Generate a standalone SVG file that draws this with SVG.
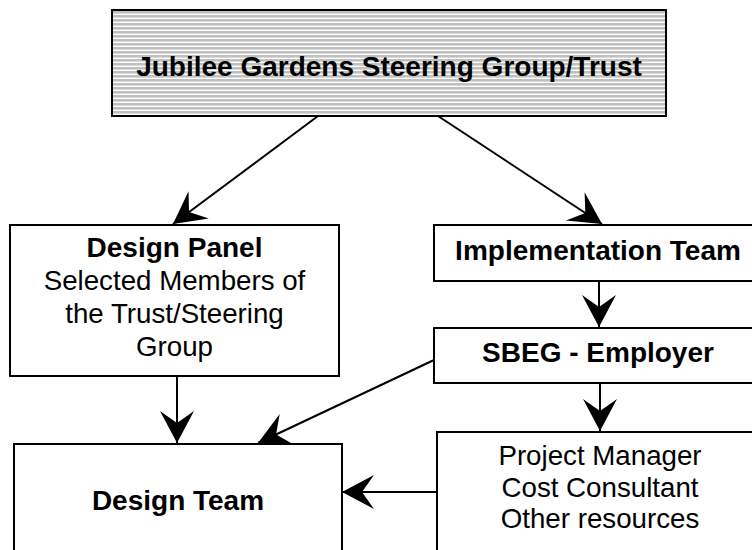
<svg xmlns="http://www.w3.org/2000/svg" width="752" height="550" viewBox="0 0 752 550">
  <defs>
    <!-- horizontal hatch for the top box -->
    <pattern id="hatch" patternUnits="userSpaceOnUse" x="0" y="11" width="8" height="4">
      <rect width="8" height="4" fill="#c0c0c0"/>
      <rect y="2.6" width="8" height="1.4" fill="#ffffff"/>
    </pattern>
    <marker id="arrow" markerUnits="userSpaceOnUse" viewBox="-33 -18 34 36" markerWidth="34" markerHeight="36" refX="0" refY="0" orient="auto">
      <path d="M0,0 L-32,-17 L-20,0 L-32,17 Z" fill="#000"/>
    </marker>
    <style>
      .box { fill: #fff; stroke: #000; stroke-width: 2; }
      .bold { font-family: "Liberation Sans", Arial, sans-serif; font-weight: bold; font-size: 28px; fill: #000; text-anchor: middle; }
      .reg { font-family: "Liberation Sans", Arial, sans-serif; font-size: 27.7px; fill: #000; text-anchor: middle; }
      .link { fill: none; stroke: #000; stroke-width: 2; marker-end: url(#arrow); }
      .plain { fill: none; stroke: #000; stroke-width: 2; }
    </style>
  </defs>

  <rect width="752" height="550" fill="#fff"/>

  <g id="steering-group">
    <rect x="112" y="10" width="554" height="106" fill="url(#hatch)" stroke="#000" stroke-width="2"/>
    <text class="bold" x="389" y="76">Jubilee Gardens Steering Group/Trust</text>
  </g>

  <g id="design-panel">
    <rect class="box" x="10" y="225" width="329" height="151"/>
    <text class="bold" x="174.5" y="257">Design Panel</text>
    <text class="reg" x="174.5" y="290">Selected Members of</text>
    <text class="reg" x="174.5" y="323">the Trust/Steering</text>
    <text class="reg" x="174.5" y="356">Group</text>
  </g>

  <g id="implementation-team">
    <rect class="box" x="434" y="225" width="328" height="56"/>
    <text class="bold" x="598" y="260">Implementation Team</text>
  </g>

  <g id="sbeg-employer">
    <rect class="box" x="434" y="328" width="328" height="55"/>
    <text class="bold" x="598" y="362">SBEG - Employer</text>
  </g>

  <g id="design-team">
    <rect class="box" x="14" y="444" width="328" height="120"/>
    <text class="bold" x="178" y="510">Design Team</text>
  </g>

  <g id="resources">
    <rect class="box" x="437" y="432" width="326" height="130"/>
    <text class="reg" x="600" y="465">Project Manager</text>
    <text class="reg" x="600" y="497">Cost Consultant</text>
    <text class="reg" x="600" y="528">Other resources</text>
  </g>

  <g id="connectors">
    <line class="link" x1="318" y1="116" x2="173" y2="224"/>
    <line class="link" x1="438" y1="116" x2="602" y2="224"/>
    <line class="link" x1="599" y1="281" x2="599" y2="327"/>
    <line class="link" x1="600" y1="383" x2="600" y2="431"/>
    <line class="link" x1="177" y1="376" x2="177" y2="443"/>
    <line class="link" x1="434" y1="360" x2="258" y2="443"/>
    <line class="link" x1="437" y1="492" x2="342" y2="492"/>
  </g>
</svg>
